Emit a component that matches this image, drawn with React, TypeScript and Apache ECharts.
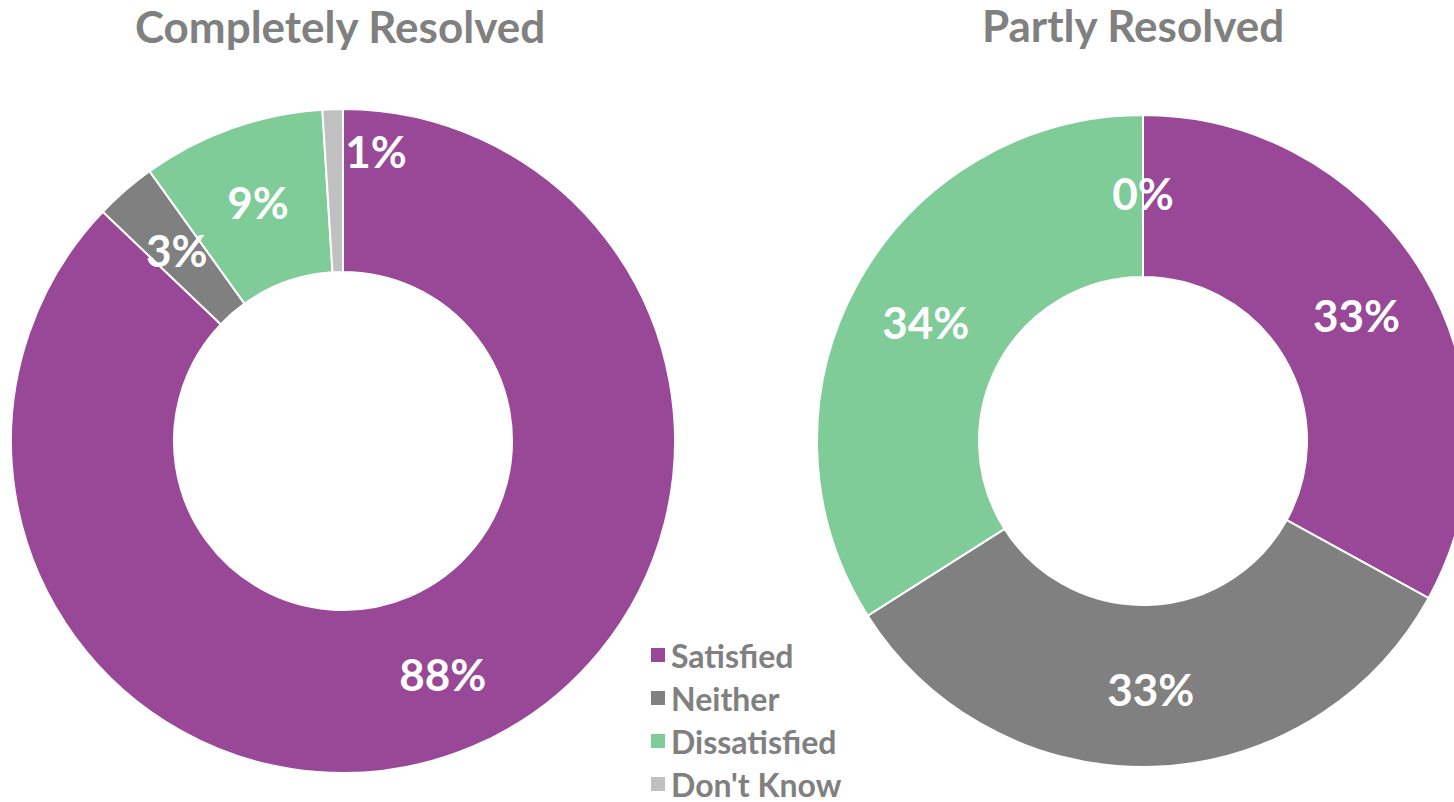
import React, { useEffect, useRef } from "react";
import * as echarts from "echarts";

const categories = ["Satisfied", "Neither", "Dissatisfied", "Don't Know"];
const colors = ["#984897", "#808080", "#7fcc99", "#c0c0c0"];
const completelyResolved = [88, 3, 9, 1];
const partlyResolved = [33, 33, 34, 0];
const titles = ["Completely Resolved", "Partly Resolved"];

const FONT = "Lato, 'Open Sans', sans-serif";

export default function App() {
  const ref = useRef<HTMLDivElement>(null);
  useEffect(() => {
    if (!ref.current) return;
    const chart = echarts.init(ref.current, null, { renderer: "svg" });
    const mk = (vals: number[], shiftSmall: boolean) =>
      categories.map((name, i) => {
        const item: any = { name, value: vals[i], itemStyle: { color: colors[i] } };
        if (shiftSmall && i === 3) item.label = { offset: [41, -37] };
        return item;
      });
    const label = {
      show: true,
      position: "inside",
      formatter: "{c}%",
      color: "#ffffff",
      fontFamily: FONT,
      fontWeight: "bold",
      fontSize: 44,
      offset: [0, 0],
    };
    const titleStyle = {
      color: "#808080",
      fontFamily: FONT,
      fontWeight: "bold",
      fontSize: 44,
      lineHeight: 40,
    };
    chart.setOption({
      animation: false,
      title: [
        { text: titles[0], left: 340, top: 6, padding: 0, textAlign: "center", textStyle: titleStyle },
        { text: titles[1], left: 1133, top: 5, padding: 0, textAlign: "center", textStyle: titleStyle },
      ],
      legend: {
        orient: "vertical",
        left: 649,
        top: 639,
        padding: 0,
        icon: "rect",
        itemWidth: 16,
        itemHeight: 16,
        itemGap: 11,
        data: categories,
        selectedMode: false,
        textStyle: {
          color: "#808080",
          fontFamily: FONT,
          fontWeight: "bold",
          fontSize: 32,
          lineHeight: 32,
        },
      },
      series: [
        {
          type: "pie",
          center: [343, 441],
          radius: [169, 332],
          startAngle: 90,
          clockwise: true,
          avoidLabelOverlap: false,
          itemStyle: { borderColor: "#ffffff", borderWidth: 2 },
          label,
          labelLine: { show: false },
          emphasis: { disabled: true },
          data: mk(completelyResolved, true),
        },
        {
          type: "pie",
          center: [1143, 441],
          radius: [164, 326],
          startAngle: 90,
          clockwise: true,
          avoidLabelOverlap: false,
          stillShowZeroSum: true,
          itemStyle: { borderColor: "#ffffff", borderWidth: 2 },
          label,
          labelLine: { show: false },
          emphasis: { disabled: true },
          data: mk(partlyResolved, false),
        },
      ],
    });
    return () => chart.dispose();
  }, []);
  return (
    <div
      ref={ref}
      style={{ position: "fixed", left: 0, top: 0, width: 1454, height: 802, background: "#ffffff" }}
    />
  );
}
